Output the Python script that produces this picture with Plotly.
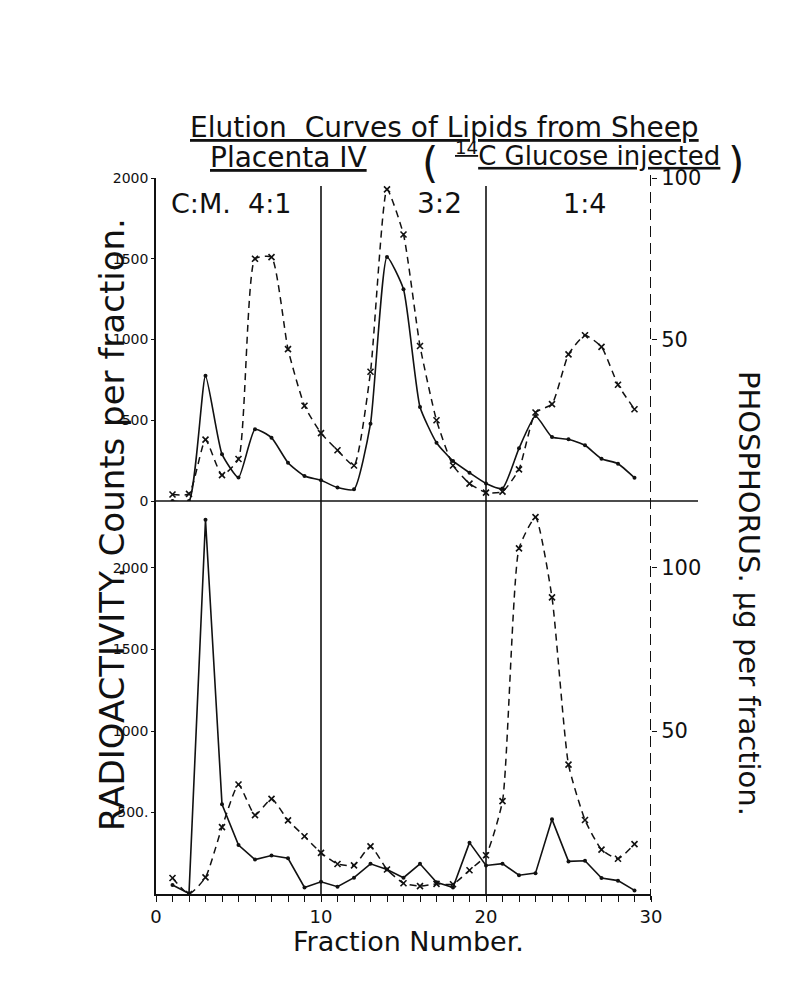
import plotly.graph_objects as go

# ---------------- data ----------------
fractions = list(range(1, 30))

# top panel (upper experiment)
top_radioactivity = [0, 0, 775, 290, 145, 444, 392, 237, 155, 128, 83, 72, 479, 1511,
                     1311, 582, 361, 248, 175, 109, 78, 326, 526, 396, 382, 345, 262, 231, 144]
top_phosphorus = [2.0, 2.2, 19.0, 8.0, 13.0, 75.0, 75.5, 47.0, 29.5, 21.0, 15.7, 11.0, 40.0, 96.5,
                  82.5, 48.0, 25.0, 11.0, 5.4, 2.6, 2.9, 9.8, 27.4, 30.0, 45.4, 51.3, 47.7, 36.0, 28.4]

# bottom panel
bottom_radioactivity = [55, 3, 2296, 550, 300, 211, 236, 219, 40, 75, 45, 100, 185, 150,
                        100, 185, 72, 40, 315, 175, 186, 115, 128, 458, 200, 204, 98, 82, 22]
bottom_phosphorus = [4.9, 0.0, 5.1, 20.5, 33.6, 24.2, 29.2, 22.6, 17.7, 12.6, 9.2, 8.8, 14.6, 7.5,
                     3.3, 2.4, 3.1, 3.0, 7.3, 11.9, 28.5, 106.0, 115.6, 91.0, 39.7, 22.7, 13.6, 10.8, 15.3]

x_tick_values = list(range(0, 31))
x_tick_labels = [str(v) if v % 10 == 0 else " " for v in x_tick_values]
top_left_ticks = [0, 500, 1000, 1500, 2000]
top_left_labels = ["0", "500", "1000", "1500", "2000"]
bottom_left_ticks = [500, 1000, 1500, 2000]
bottom_left_labels = ["500.", "1000", "1500", "2000"]
right_ticks = [50, 100]
right_labels = ["50", "100"]
solvent_labels = ["C:M.  4:1", "3:2", "1:4"]
solvent_boundaries = [10, 20]

# ---------------- layout helpers ----------------
W, H = 806, 986
def px_x(p):
    return p / W
def px_y(p):
    return 1 - p / H

FONT = "DejaVu Sans"
INK = "#111111"

x_dom = [px_x(148), px_x(643)]
top_dom = [px_y(493), px_y(170)]
bot_dom = [px_y(886), px_y(493)]
bottom_max = 2411

fig = go.Figure()

fig.add_trace(go.Scatter(x=fractions, y=top_radioactivity, xaxis="x2", yaxis="y2",
                         mode="lines+markers", line=dict(color=INK, width=1.6, shape="spline", smoothing=0.5),
                         marker=dict(symbol="circle", size=4, color=INK), showlegend=False))
fig.add_trace(go.Scatter(x=fractions, y=top_phosphorus, xaxis="x2", yaxis="y4",
                         mode="lines+markers", line=dict(color=INK, width=1.5, dash="7px,5px", shape="spline", smoothing=0.5),
                         marker=dict(symbol="x-thin", size=6, color=INK, line=dict(width=1.6, color=INK)), showlegend=False))
fig.add_trace(go.Scatter(x=fractions, y=bottom_radioactivity, xaxis="x", yaxis="y",
                         mode="lines+markers", line=dict(color=INK, width=1.6),
                         marker=dict(symbol="circle", size=4, color=INK), showlegend=False))
fig.add_trace(go.Scatter(x=fractions, y=bottom_phosphorus, xaxis="x", yaxis="y3",
                         mode="lines+markers", line=dict(color=INK, width=1.5, dash="7px,5px", shape="spline", smoothing=0.5),
                         marker=dict(symbol="x-thin", size=6, color=INK, line=dict(width=1.6, color=INK)), showlegend=False))

tickfont = dict(family=FONT, size=14, color=INK)
rtickfont = dict(family=FONT, size=21, color=INK)

fig.update_layout(
    width=W, height=H, autosize=False,
    margin=dict(l=0, r=0, t=0, b=0),
    paper_bgcolor="white", plot_bgcolor="white",
    font=dict(family=FONT, color=INK),
    xaxis=dict(domain=x_dom, range=[0, 30], anchor="y", tickmode="array", tickvals=x_tick_values,
               ticktext=x_tick_labels, tickangle=0, automargin=False, ticks="outside", ticklen=6,
               tickwidth=1.4, tickcolor=INK, showline=True, linecolor=INK, linewidth=1.6,
               showgrid=False, zeroline=False, tickfont=dict(family=FONT, size=18, color=INK)),
    xaxis2=dict(domain=x_dom, range=[0, 30], anchor="y2", visible=False, automargin=False),
    yaxis=dict(domain=bot_dom, range=[0, bottom_max], anchor="x", tickvals=bottom_left_ticks,
               ticktext=bottom_left_labels, ticks="outside", ticklen=3, tickcolor=INK, showline=True,
               linecolor=INK, linewidth=1.6, showgrid=False, zeroline=False, tickfont=tickfont,
               automargin=False),
    yaxis2=dict(domain=top_dom, range=[0, 2000], anchor="x2", tickvals=top_left_ticks,
                ticktext=top_left_labels, ticks="outside", ticklen=3, tickcolor=INK, showline=True,
                linecolor=INK, linewidth=1.6, showgrid=False, zeroline=False, tickfont=tickfont,
                automargin=False),
    yaxis3=dict(overlaying="y", side="right", anchor="x", range=[0, bottom_max / 20], tickvals=right_ticks,
                ticktext=right_labels, ticks="outside", ticklen=5, tickcolor=INK, showline=False,
                showgrid=False, zeroline=False, tickfont=rtickfont, automargin=False),
    yaxis4=dict(overlaying="y2", side="right", anchor="x2", range=[0, 100], tickvals=right_ticks,
                ticktext=right_labels, ticks="outside", ticklen=5, tickcolor=INK, showline=False,
                showgrid=False, zeroline=False, tickfont=rtickfont, automargin=False),
)

shapes = []
# separating zero line between the two panels
shapes.append(dict(type="line", xref="paper", yref="paper", x0=px_x(148), x1=px_x(690),
                   y0=px_y(493), y1=px_y(493), line=dict(color=INK, width=1.6)))
# solvent change boundaries
for b in solvent_boundaries:
    shapes.append(dict(type="line", xref="x", yref="paper", x0=b, x1=b, y0=px_y(886), y1=px_y(178),
                       line=dict(color=INK, width=1.6)))
# dashed right-hand phosphorus axis
shapes.append(dict(type="line", xref="x", yref="paper", x0=30, x1=30, y0=px_y(892), y1=px_y(166),
                   line=dict(color=INK, width=2, dash="11px,6px")))
fig.update_layout(shapes=shapes)

ann = []
def text(x, y, s, size, angle=0, xanchor="center"):
    ann.append(dict(x=px_x(x), y=px_y(y), xref="paper", yref="paper", text=s, showarrow=False,
                    textangle=angle, xanchor=xanchor, yanchor="middle",
                    font=dict(family=FONT, size=size, color=INK)))

text(180, 120, "<u>Elution  Curves of Lipids from Sheep</u>", 28, xanchor="left")
text(200, 150, "<u>Placenta IV</u>", 28, xanchor="left")
text(422, 155, "(", 42)
text(445, 146, "<u><sup>14</sup>C Glucose injected</u>", 26, xanchor="left")
text(728, 155, ")", 42)
text(161, 195, solvent_labels[0], 27, xanchor="left")
text(432, 195, solvent_labels[1], 28)
text(576, 195, solvent_labels[2], 27)
text(104, 517, "RADIOACTIVITY. Counts per fraction.", 34, angle=-90)
text(741, 585, "PHOSPHORUS. µg per fraction.", 29, angle=90)
text(400, 933, "Fraction Number.", 27)
fig.update_layout(annotations=ann)

fig.write_html("out.html")
